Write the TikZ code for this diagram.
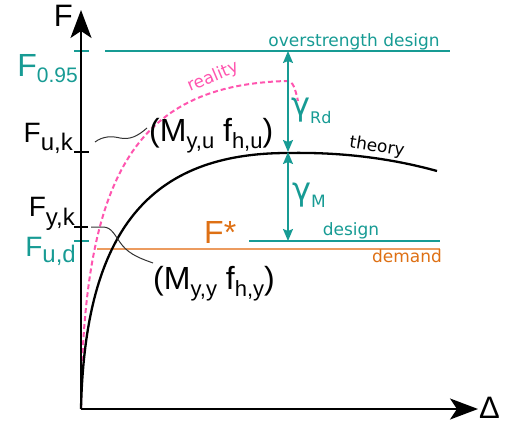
\documentclass[tikz,border=0pt]{standalone}
\usepackage{fontspec}
\usepackage{graphicx}
\setmainfont{Liberation Sans}
\newfontfamily\dejavu{DejaVu Sans}
\usetikzlibrary{arrows.meta}
\definecolor{tealc}{RGB}{23,155,148}
\definecolor{orangec}{RGB}{222,112,20}
\definecolor{orangeline}{RGB}{236,155,95}
\definecolor{pinkc}{RGB}{255,85,175}
\newcommand{\lowsub}[3]{\raisebox{-#1pt}{\fontsize{#2}{#2}\selectfont #3}}
\tikzset{
  axisline/.style={line width=2.2pt, black, -{Stealth[length=28pt,width=21pt,inset=7pt]}},
  tickline/.style={line width=1.2pt},
  levelline/.style={line width=1.3pt},
  gammaarrow/.style={tealc, line width=1.5pt, {Stealth[length=12pt,width=10pt,inset=2pt]}-{Stealth[length=12pt,width=10pt,inset=2pt]}},
  bigF/.style={font=\fontsize{28}{28}\selectfont, inner sep=0pt},
  smalltxt/.style={font=\dejavu\fontsize{17}{17}\selectfont, inner sep=0pt},
  leader/.style={line width=1pt, black!80},
  curvebl/.style={line width=2.3pt, black},
  curvepk/.style={line width=2pt, pinkc, dash pattern=on 5pt off 3pt},
}
\begin{document}
\begin{tikzpicture}[x=1pt, y=-1pt]
\useasboundingbox (0,0) rectangle (505,425);
% coordinates
\coordinate (O) at (81,409);
\coordinate (Ytip) at (81,10);
\coordinate (Xtip) at (478,409);
% level lines
\coordinate (ovrA) at (105,51);
\coordinate (ovrB) at (450,51);
\coordinate (desA) at (249,241);
\coordinate (desB) at (440,241);
\coordinate (demA) at (97,249);
\coordinate (demB) at (440,249);
\draw[levelline, tealc] (ovrA) -- (ovrB);
\draw[levelline, tealc] (desA) -- (desB);
\draw[levelline, orangeline] (demA) -- (demB);
% ticks
\coordinate (t95a) at (74,51);  \coordinate (t95b) at (89,51);
\coordinate (tuka) at (74,152); \coordinate (tukb) at (89,152);
\coordinate (tyka) at (74,227); \coordinate (tykb) at (88,227);
\coordinate (tuda) at (74,241); \coordinate (tudb) at (89,241);
\draw[tickline, tealc] (t95a) -- (t95b);
\draw[tickline] (tuka) -- (tukb);
\draw[tickline] (tyka) -- (tykb);
\draw[tickline, tealc] (tuda) -- (tudb);
% reality curve
\coordinate (rpeak) at (287,81);
\coordinate (rend) at (298,101);
\draw[curvepk] (O) .. controls (83,180) and (132,85) .. (rpeak) .. controls (293,81) and (295,88) .. (rend);
% theory curve
\coordinate (tpeak) at (288,153);
\coordinate (tend) at (437,171);
\draw[curvebl] (O) .. controls (85,230) and (150,153) .. (tpeak) .. controls (340,152) and (390,158) .. (tend);
% axes
\draw[axisline] (O) -- (Ytip);
\draw[axisline] (O) -- (Xtip);
\node[bigF, font=\fontsize{31}{31}\selectfont, anchor=base east] (Flab) at (73,27) {F};
\node[bigF, font=\fontsize{31}{31}\selectfont, anchor=base west] (Dlab) at (479,418) {Δ};
% gamma arrows
\coordinate (gtop) at (288,51);
\coordinate (gmid) at (288,152);
\coordinate (gbot) at (288,241);
\draw[gammaarrow] (gtop) -- (gmid);
\draw[gammaarrow] (gmid) -- (gbot);
\node[inner sep=0pt, anchor=base west, text=tealc] (gRd) at (291,115) {\dejavu\fontsize{32}{32}\selectfont γ\lowsub{8}{16}{Rd}};
\node[inner sep=0pt, anchor=base west, text=tealc] (gM) at (292,200) {\dejavu\fontsize{32}{32}\selectfont γ\lowsub{7}{17}{M}};
% F labels
\node[bigF, font=\fontsize{32}{32}\selectfont, anchor=base east, text=tealc] (F95) at (78,77) {F\lowsub{6}{21}{0.95}};
\node[bigF, anchor=base east] (Fuk) at (73,142) {F\lowsub{8}{24}{u,k}};
\node[bigF, anchor=base east] (Fyk) at (75,216) {F\lowsub{9}{24}{y,k}};
\node[bigF, anchor=base east, text=tealc] (Fud) at (76,256) {F\lowsub{6}{24}{u,d}};
\node[bigF, font=\fontsize{32}{32}\selectfont, anchor=base west, text=orangec] (Fstar) at (204,243) {F*};
% M labels
\node[bigF, font=\fontsize{32}{32}\selectfont, anchor=base west] (Myu) at (149,141) {(M\lowsub{7}{22}{y,u} f\lowsub{7}{22}{h,u})};
\node[bigF, font=\fontsize{32}{32}\selectfont, anchor=base west] (Myy) at (153,289) {(M\lowsub{7}{22}{y,y} f\lowsub{7}{22}{h,y})};
% leaders
\coordinate (luA) at (95,142);
\coordinate (luB) at (147,128);
\draw[leader] (luA) .. controls (103,136) and (112,136) .. (120,138) .. controls (130,140) and (138,136) .. (luB);
\coordinate (lyA) at (91,227);
\coordinate (lyB) at (153,263);
\draw[leader] (lyA) -- (103,227) .. controls (112,227) and (115,236) .. (122,245) .. controls (130,255) and (142,259) .. (lyB);
% small labels
\node[smalltxt, text=tealc, anchor=base] (ovrtxt) at (354,46.5) {overstrength design};
\node[smalltxt, text=tealc, anchor=base] (destxt) at (351,235.5) {design};
\node[smalltxt, text=orangec, anchor=base] (demtxt) at (407,262) {demand};
\node[smalltxt, anchor=center, rotate=-9] (thtxt) at (377,147) {theory};
\node[smalltxt, text=pinkc, anchor=center, rotate=23] (retxt) at (213,77) {reality};
\end{tikzpicture}
\end{document}
